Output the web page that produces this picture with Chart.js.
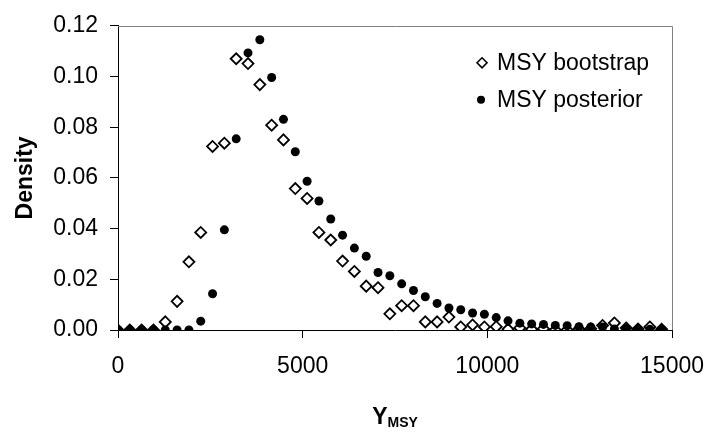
<!DOCTYPE html>
<html>
<head>
<meta charset="utf-8">
<title>MSY density</title>
<script src="https://cdn.jsdelivr.net/npm/chart.js@4.4.1/dist/chart.umd.min.js"></script>
<style>
  html, body { margin: 0; padding: 0; background: #fff; }
  #wrap { width: 719px; height: 432px; }
</style>
</head>
<body>
<div id="wrap"><canvas id="msyChart" width="719" height="432"></canvas></div>
<script>
// yield bins (x) and the two density estimates read per bin
const yieldBins = [
  0, 320, 640, 960, 1280, 1600, 1920, 2240, 2560, 2880,
  3200, 3520, 3840, 4160, 4480, 4800, 5120, 5440, 5760, 6080,
  6400, 6720, 7040, 7360, 7680, 8000, 8320, 8640, 8960, 9280,
  9600, 9920, 10240, 10560, 10880, 11200, 11520, 11840, 12160, 12480,
  12800, 13120, 13440, 13760, 14080, 14400, 14720
];
const bootstrapDensity = [
  0, 0, 0, 0, 0.0032, 0.0113, 0.0269, 0.0385, 0.0724, 0.0737,
  0.1070, 0.1051, 0.0968, 0.0808, 0.0750, 0.0558, 0.0519, 0.0385, 0.0355, 0.0272,
  0.0231, 0.0173, 0.0167, 0.0064, 0.0096, 0.0096, 0.0032, 0.0032, 0.0051, 0.0012,
  0.0020, 0.0012, 0.0013, 0.0003, 0.0008, 0.0003, 0.0005, 0, 0, 0.0004,
  0.0005, 0.0018, 0.0028, 0.0008, 0.0004, 0.0012, 0.0003
];
const posteriorDensity = [
  0, 0, 0, 0, 0, 0, 0, 0.0035, 0.0143, 0.0395,
  0.0754, 0.1093, 0.1145, 0.0996, 0.0831, 0.0703, 0.0587, 0.0509, 0.0438, 0.0374,
  0.0323, 0.0291, 0.0227, 0.0214, 0.0182, 0.0156, 0.0131, 0.0105, 0.0087, 0.0080,
  0.0067, 0.0062, 0.0049, 0.0036, 0.0027, 0.0024, 0.0022, 0.0018, 0.0017, 0.0013,
  0.0012, 0.0012, 0.0004, 0.0006, 0.0003, 0.0003, 0.0002
];
const xTicks = [0, 5000, 10000, 15000];
const yTicks = [0, 0.02, 0.04, 0.06, 0.08, 0.10, 0.12];

const FONT = "'Liberation Sans', Arial, sans-serif";
const pts = arr => yieldBins.map((x, i) => ({ x, y: arr[i] }));

// grey frame on top/right, inset legend, and the subscripted x title
const decorations = {
  id: 'decorations',
  beforeDatasetsDraw(chart) {
    const { ctx, chartArea: a } = chart;
    ctx.save();
    ctx.strokeStyle = '#808080';
    ctx.lineWidth = 1;
    ctx.beginPath();
    ctx.moveTo(a.left, Math.round(a.top) + 0.5);
    ctx.lineTo(Math.round(a.right) + 0.5, Math.round(a.top) + 0.5);
    ctx.lineTo(Math.round(a.right) + 0.5, a.bottom);
    ctx.stroke();
    ctx.restore();
  },
  afterDraw(chart) {
    const { ctx, chartArea: a } = chart;
    const ds = chart.data.datasets;
    ctx.save();
    const lx = a.right - 190;
    const rows = [a.top + 37, a.top + 74];
    // bootstrap marker
    ctx.beginPath();
    ctx.moveTo(lx - 5, rows[0]);
    ctx.lineTo(lx, rows[0] - 5);
    ctx.lineTo(lx + 5, rows[0]);
    ctx.lineTo(lx, rows[0] + 5);
    ctx.closePath();
    ctx.fillStyle = '#fff';
    ctx.fill();
    ctx.lineWidth = 1.6;
    ctx.strokeStyle = '#000';
    ctx.stroke();
    // posterior marker
    ctx.beginPath();
    ctx.arc(lx - 1, rows[1], 4, 0, Math.PI * 2);
    ctx.fillStyle = '#000';
    ctx.fill();
    ctx.font = '23px ' + FONT;
    ctx.textBaseline = 'middle';
    ctx.fillText(ds[1].label, lx + 15, rows[0] + 1);
    ctx.fillText(ds[0].label, lx + 15, rows[1] + 1);

    // x title: Y with subscript MSY
    const cx = (a.left + a.right) / 2;
    const base = 424;
    ctx.textBaseline = 'alphabetic';
    ctx.font = 'bold 23px ' + FONT;
    const wY = ctx.measureText('Y').width;
    ctx.font = 'bold 14px ' + FONT;
    const wS = ctx.measureText('MSY').width;
    const x0 = cx - (wY + wS) / 2;
    ctx.font = 'bold 23px ' + FONT;
    ctx.fillText('Y', x0, base);
    ctx.font = 'bold 14px ' + FONT;
    ctx.fillText('MSY', x0 + wY, base + 3);
    ctx.restore();
  }
};

new Chart(document.getElementById('msyChart'), {
  type: 'scatter',
  data: {
    datasets: [
      {
        label: 'MSY posterior',
        data: pts(posteriorDensity),
        pointStyle: 'circle',
        pointRadius: 4.5,
        pointBackgroundColor: '#000',
        pointBorderColor: '#000',
        pointBorderWidth: 0,
        order: 1
      },
      {
        label: 'MSY bootstrap',
        data: pts(bootstrapDensity),
        pointStyle: 'rectRot',
        pointRadius: 5.5,
        pointBackgroundColor: '#fff',
        pointBorderColor: '#000',
        pointBorderWidth: 1.8,
        order: 2
      }
    ]
  },
  options: {
    responsive: false,
    animation: false,
    devicePixelRatio: 1,
    layout: { padding: { left: 0, top: 18, right: 34, bottom: 0 } },
    plugins: {
      legend: { display: false },
      tooltip: { enabled: false }
    },
    scales: {
      x: {
        type: 'linear',
        min: 0,
        max: 15000,
        afterBuildTicks: s => { s.ticks = xTicks.map(value => ({ value })); },
        afterFit: s => { s.height = 102; },
        grid: { drawOnChartArea: false, tickLength: 8, color: '#000' },
        border: { color: '#000', width: 1 },
        ticks: { color: '#000', padding: 15, maxRotation: 0, font: { family: FONT, size: 23 }, callback: v => String(v) }
      },
      y: {
        min: 0,
        max: 0.12,
        afterBuildTicks: s => { s.ticks = yTicks.map(value => ({ value })); },
        afterFit: s => { s.width = 118; },
        grid: { drawOnChartArea: false, tickLength: 8, color: '#000' },
        border: { color: '#000', width: 1 },
        ticks: { color: '#000', padding: 12, font: { family: FONT, size: 23 }, callback: v => v.toFixed(2) },
        title: {
          display: true,
          text: 'Density',
          color: '#000',
          padding: { top: 12, bottom: 0 },
          font: { family: FONT, size: 23, weight: 'bold' }
        }
      }
    }
  },
  plugins: [decorations]
});
</script>
</body>
</html>
